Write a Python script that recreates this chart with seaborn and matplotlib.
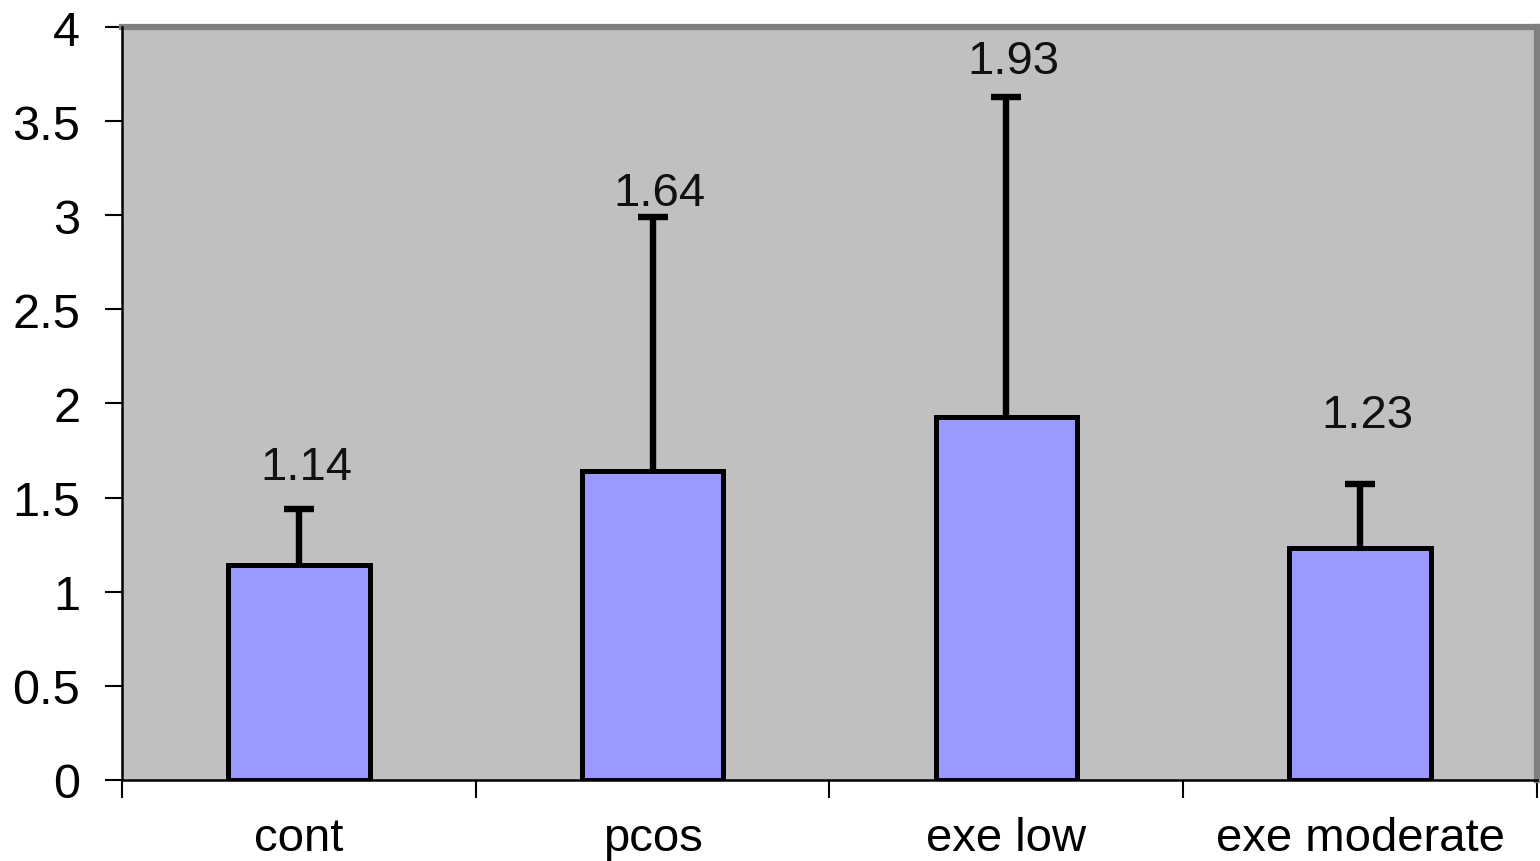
import numpy as np
import pandas as pd
import matplotlib
matplotlib.use("Agg")
import matplotlib.pyplot as plt
import seaborn as sns

groups = ["cont", "pcos", "exe low", "exe moderate"]
means = [1.14, 1.64, 1.93, 1.23]
upper_err = [0.30, 1.35, 1.70, 0.34]
label_y = [1.66, 3.12, 3.82, 1.94]
y_ticks = [0, 0.5, 1, 1.5, 2, 2.5, 3, 3.5, 4]

sns.set_style("white")
plt.rcParams["font.family"] = ["Liberation Sans", "DejaVu Sans"]

df = pd.DataFrame({"group": groups, "mean": means})

fig = plt.figure(figsize=(15.4, 8.62), dpi=100)
ax = fig.add_axes([0.0792, 0.094, 0.9188, 0.8735])
ax.set_facecolor("#c0c0c0")

sns.barplot(data=df, x="group", y="mean", color="#9999ff", saturation=1,
            width=0.4, edgecolor="black", linewidth=3.6, errorbar=None, ax=ax,
            zorder=2)

xs = np.arange(len(groups))
eb = ax.errorbar(xs, means, yerr=[np.zeros(len(groups)), upper_err], fmt="none",
                 ecolor="black", elinewidth=4.6, capsize=10.5, capthick=4.6,
                 zorder=1)
# hide the zero-length lower caps sitting on the bar tops
for cap in eb[1]:
    if np.allclose(cap.get_ydata(), means):
        cap.set_visible(False)

for x, v, ly in zip(xs, means, label_y):
    ax.text(x + 0.02, ly, f"{v:.2f}", ha="center", va="center", fontsize=34,
            color="#111111")

ax.set_xlim(-0.5, 3.5)
ax.set_ylim(0, 4)
ax.set_yticks(y_ticks)
ax.set_yticklabels([f"{t:g}" for t in y_ticks], fontsize=35, color="black")
ax.set_xticks(xs)
ax.set_xticklabels(groups, fontsize=34, color="black")
ax.set_xticks(np.arange(-0.5, 4, 1), minor=True)
ax.tick_params(axis="x", which="major", length=0, pad=26, bottom=False)
ax.tick_params(axis="x", which="minor", direction="out", length=13, width=1.5,
               color="black", bottom=True)
ax.tick_params(axis="y", direction="out", length=12, width=1.5, color="black",
               left=True, pad=18)
ax.set_xlabel("")
ax.set_ylabel("")

for side in ["top", "right"]:
    ax.spines[side].set_color("#808080")
    ax.spines[side].set_linewidth(4.5)
for side in ["left", "bottom"]:
    ax.spines[side].set_color("black")
    ax.spines[side].set_linewidth(1.8)
    ax.spines[side].set_zorder(5)

fig.savefig("out.png", dpi=100)
